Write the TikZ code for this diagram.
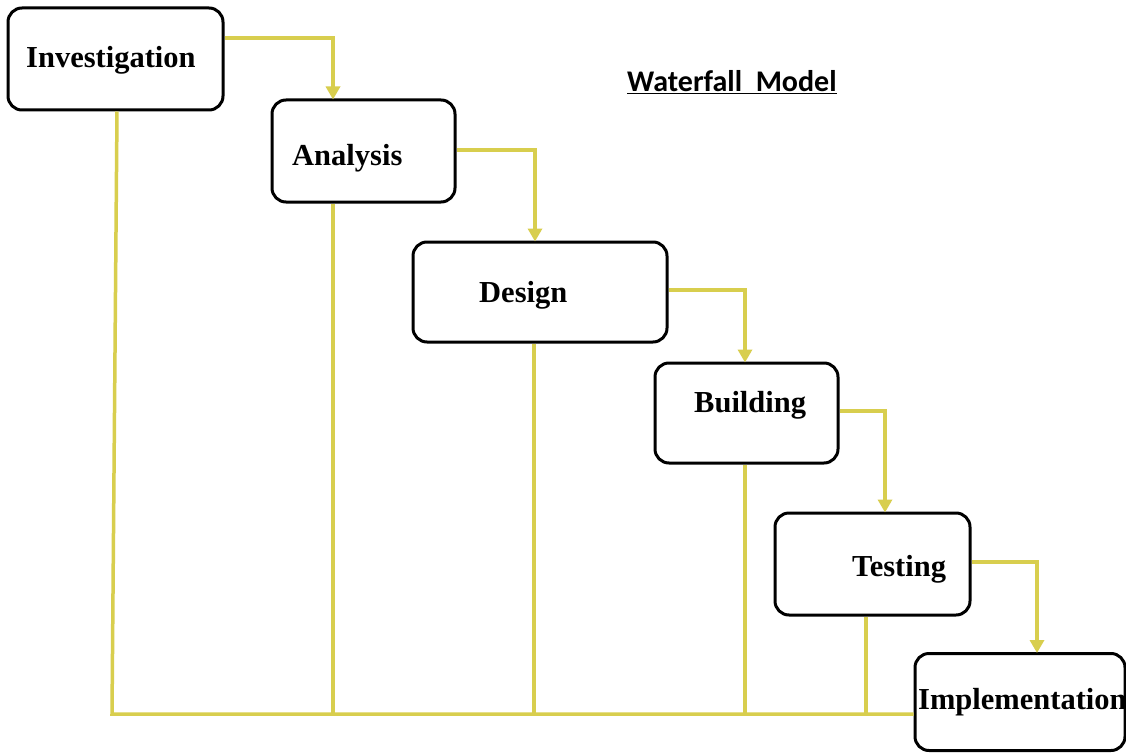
\documentclass[tikz,border=0pt]{standalone}
\usepackage{fontspec}
\setmainfont{Liberation Serif}
\newfontfamily\titlefont{Carlito}
\usetikzlibrary{arrows.meta}
\definecolor{flowyellow}{RGB}{216,206,78}
\tikzset{
  phase/.style={draw=black, line width=3pt, rounded corners=14pt, fill=white,
    inner sep=0pt, minimum width=#1},
  phase/.default={100pt},
  phaselabel/.style={anchor=base west, inner sep=0pt,
    font=\fontsize{30.5}{36}\selectfont\bfseries},
  flow/.style={draw=flowyellow, line width=3.5pt},
  flowarrow/.style={flow, -{Triangle[width=14pt,length=13pt]}, shorten >=-1pt},
}
\begin{document}
\begin{tikzpicture}[x=1pt, y=-1pt]
  \useasboundingbox[fill=white] (0,0) rectangle (1126,754);

  % phase boxes
  \node[phase=215pt, minimum height=102pt] (inv) at (115.5,59)  {};
  \node[phase=183pt, minimum height=102pt] (ana) at (363.5,151) {};
  \node[phase=254pt, minimum height=100pt] (des) at (540,292)   {};
  \node[phase=183pt, minimum height=100pt] (bld) at (746.5,413) {};
  \node[phase=195pt, minimum height=102pt] (tst) at (872.5,564) {};
  \node[phase=210pt, minimum height=97pt]  (imp) at (1020,702)  {};

  % common return line along the bottom
  \coordinate (base) at (112,714);
  \draw[flow] (inv.south -| 117,0) -- (base) -- (imp.west |- base);
  \draw[flow] (ana.south -| 333,0) -- (base -| 333,0);
  \draw[flow] (des.south -| 534,0) -- (base -| 534,0);
  \draw[flow] (bld.south -| 745,0) -- (base -| 745,0);
  \draw[flow] (tst.south -| 866,0) -- (base -| 866,0);

  % cascade from one phase to the next
  \draw[flowarrow] (inv.east |- 0,38)  -| (ana.north -| 333,0);
  \draw[flowarrow] (ana.east |- 0,150) -| (des.north -| 535,0);
  \draw[flowarrow] (des.east |- 0,290) -| (bld.north -| 745,0);
  \draw[flowarrow] (bld.east |- 0,411) -| (tst.north -| 885,0);
  \draw[flowarrow] (tst.east |- 0,562) -| (imp.north -| 1037,0);

  % phase names
  \node[phaselabel] (invt) at (26,68)   {Investigation};
  \node[phaselabel] (anat) at (292,166) {Analysis};
  \node[phaselabel] (dest) at (479,302) {Design};
  \node[phaselabel] (bldt) at (694,412) {Building};
  \node[phaselabel] (tstt) at (852,576) {Testing};
  \node[phaselabel] (impt) at (918,709) {Implementation};

  % title
  \node[anchor=base west, inner sep=0pt,
        font=\titlefont\fontsize{30}{36}\selectfont\bfseries] (title) at (627,92)
        {\underline{Waterfall\ \ Model}};
\end{tikzpicture}
\end{document}
